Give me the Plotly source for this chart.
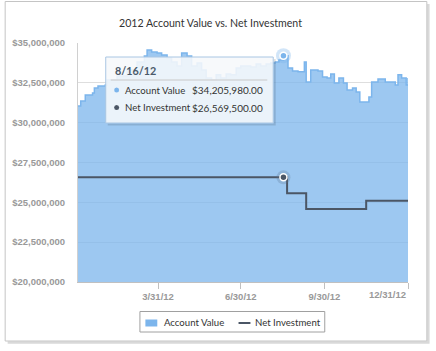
import plotly.graph_objects as go

# ---------------- data ----------------
acct_dates = ["2012-01-03", "2012-01-06", "2012-01-11", "2012-01-19", "2012-01-21", "2012-01-25",
              "2012-02-02", "2012-02-04", "2012-02-15", "2012-02-26", "2012-03-08", "2012-03-16",
              "2012-03-19", "2012-03-24", "2012-03-30", "2012-04-04", "2012-04-10", "2012-04-15",
              "2012-04-21", "2012-04-26", "2012-05-02", "2012-05-07", "2012-05-13", "2012-05-18",
              "2012-05-23", "2012-05-29", "2012-06-03", "2012-06-08", "2012-06-14", "2012-06-19",
              "2012-06-25", "2012-06-30", "2012-07-06", "2012-07-11", "2012-07-17", "2012-07-22",
              "2012-07-28", "2012-08-02", "2012-08-07", "2012-08-11", "2012-08-16", "2012-08-21",
              "2012-08-26", "2012-09-01", "2012-09-07", "2012-09-08", "2012-09-10", "2012-09-15",
              "2012-09-23", "2012-09-28", "2012-10-03", "2012-10-07", "2012-10-11", "2012-10-16",
              "2012-10-21", "2012-10-25", "2012-10-31", "2012-11-04", "2012-11-08", "2012-11-15",
              "2012-11-18", "2012-11-21", "2012-11-28", "2012-12-06", "2012-12-13", "2012-12-17",
              "2012-12-20", "2012-12-24", "2012-12-29", "2012-12-31"]
acct_values = [31050000, 31360000, 31740000, 31860000, 32180000, 32300000,
               32370000, 32680000, 32930000, 33300000, 33800000, 34190000,
               34560000, 34440000, 34380000, 34250000, 34060000, 33810000,
               33560000, 34380000, 34190000, 33560000, 33750000, 33310000,
               32810000, 32680000, 33000000, 32810000, 33060000, 33000000,
               33430000, 33560000, 33560000, 33500000, 33680000, 33560000,
               33680000, 33750000, 33810000, 33940000, 34205980, 33430000,
               33250000, 33190000, 33190000, 33810000, 32560000, 33310000,
               33250000, 32870000, 32810000, 33060000, 32490000, 32810000,
               32490000, 32050000, 32180000, 31930000, 31300000, 31300000,
               31610000, 32560000, 32740000, 32560000, 32560000, 32370000,
               33000000, 32810000, 32370000, 32810000]

net_dates = ["2012-01-03", "2012-08-20", "2012-09-10", "2012-11-15", "2012-12-31"]
net_values = [26569500, 25570000, 24580000, 25100000, 25100000]

hover_date = "2012-08-16"
hover_account = 34205980.00
hover_net = 26569500.00
hover_label = "8/16/12"

x_tick_vals = ["2012-03-31", "2012-06-30", "2012-09-30", "2012-12-31"]
x_tick_text = ["3/31/12", "6/30/12", "9/30/12", ""]
last_tick_label = "12/31/12"

title_text = "2012 Account Value vs. Net Investment"
series_names = ["Account Value", "Net Investment"]

# ---------------- geometry helpers ----------------
W, H = 436, 351
ML, MR, MT, MB = 75, 28, 43, 69
PW, PH = W - ML - MR, H - MT - MB


def px(x):
    return (x - ML) / PW


def py(y):
    return (H - MB - y) / PH


BLUE = "#7cb5ec"
DARK = "#4b5665"
FONT = "Lato"

fig = go.Figure()
fig.add_trace(go.Scatter(
    x=acct_dates, y=acct_values, name=series_names[0], mode="lines",
    line=dict(color=BLUE, width=1.5, shape="hv"),
    fill="tozeroy", fillcolor="rgba(124,181,236,0.75)", hoverinfo="skip"))
fig.add_trace(go.Scatter(
    x=net_dates, y=net_values, name=series_names[1], mode="lines",
    line=dict(color=DARK, width=2, shape="hv"), hoverinfo="skip"))

# hover markers (halo + dot)
fig.add_trace(go.Scatter(x=[hover_date], y=[hover_account], mode="markers", showlegend=False,
                         marker=dict(size=15, color="rgba(124,181,236,0.35)", line=dict(width=0)),
                         hoverinfo="skip"))
fig.add_trace(go.Scatter(x=[hover_date], y=[hover_account], mode="markers", showlegend=False,
                         marker=dict(size=7, color=BLUE, line=dict(width=1.5, color="white")),
                         hoverinfo="skip"))
fig.add_trace(go.Scatter(x=[hover_date], y=[hover_net], mode="markers", showlegend=False,
                         marker=dict(size=14, color="rgba(90,110,140,0.25)", line=dict(width=0)),
                         hoverinfo="skip"))
fig.add_trace(go.Scatter(x=[hover_date], y=[hover_net], mode="markers", showlegend=False,
                         marker=dict(size=7, color=DARK, line=dict(width=1.5, color="white")),
                         hoverinfo="skip"))

shapes = []
# outer frame + shadow
shapes.append(dict(type="path", xref="paper", yref="paper",
                   path=f"M {px(4)} {py(342.5)} L {px(428.5)} {py(342.5)} L {px(428.5)} {py(4)}",
                   line=dict(color="#d9d9d9", width=2.5)))
shapes.append(dict(type="rect", xref="paper", yref="paper",
                   x0=px(1.5), x1=px(427), y0=py(341), y1=py(1.5),
                   line=dict(color="#c4c4c4", width=1), fillcolor="rgba(0,0,0,0)"))
# tooltip shadow + box
shapes.append(dict(type="path", xref="paper", yref="paper",
                   path=f"M {px(105)} {py(124.5)} L {px(273.5)} {py(124.5)} L {px(273.5)} {py(59)}",
                   line=dict(color="rgba(0,0,0,0.12)", width=2)))
shapes.append(dict(type="rect", xref="paper", yref="paper",
                   x0=px(103), x1=px(272), y0=py(123), y1=py(57),
                   line=dict(color="#a9c6e3", width=1), fillcolor="rgba(246,248,251,0.88)"))
shapes.append(dict(type="line", xref="paper", yref="paper",
                   x0=px(108), x1=px(266), y0=py(80), y1=py(80),
                   line=dict(color="#c8c8c8", width=1)))
# tooltip dots
for cy, col in [(90, BLUE), (107.5, DARK)]:
    shapes.append(dict(type="circle", xref="paper", yref="paper",
                       x0=px(111.5), x1=px(116.5), y0=py(cy + 2.5), y1=py(cy - 2.5),
                       line=dict(width=0), fillcolor=col))
# legend box
shapes.append(dict(type="rect", xref="paper", yref="paper",
                   x0=px(137.5), x1=px(324), y0=py(332), y1=py(311.5),
                   line=dict(color="#a0a0a0", width=1), fillcolor="rgba(0,0,0,0)"))
shapes.append(dict(type="rect", xref="paper", yref="paper",
                   x0=px(143), x1=px(155), y0=py(326.5), y1=py(319.5),
                   line=dict(width=0), fillcolor=BLUE))
shapes.append(dict(type="line", xref="paper", yref="paper",
                   x0=px(237), x1=px(249), y0=py(323), y1=py(323),
                   line=dict(color=DARK, width=2)))

lbl_font = dict(family=FONT, size=9.6, color="#333333")
val_font = dict(family=FONT, size=10, color="#333333")
annotations = [
    dict(text=f"<b>{hover_label}</b>", x=px(110.5), y=py(70), xref="paper", yref="paper",
         xanchor="left", yanchor="middle", showarrow=False,
         font=dict(family=FONT, size=10.8, color="#4a5a6b")),
    dict(text=series_names[0], x=px(120.5), y=py(90), xref="paper", yref="paper",
         xanchor="left", yanchor="middle", showarrow=False, font=lbl_font),
    dict(text=f"${hover_account:,.2f}", x=px(264), y=py(90), xref="paper", yref="paper",
         xanchor="right", yanchor="middle", showarrow=False, font=val_font),
    dict(text=series_names[1], x=px(120.5), y=py(107.5), xref="paper", yref="paper",
         xanchor="left", yanchor="middle", showarrow=False, font=lbl_font),
    dict(text=f"${hover_net:,.2f}", x=px(264), y=py(107.5), xref="paper", yref="paper",
         xanchor="right", yanchor="middle", showarrow=False, font=val_font),
    # legend labels
    dict(text=series_names[0], x=px(159.5), y=py(322.5), xref="paper", yref="paper",
         xanchor="left", yanchor="middle", showarrow=False, font=lbl_font),
    dict(text=series_names[1], x=px(252), y=py(322.5), xref="paper", yref="paper",
         xanchor="left", yanchor="middle", showarrow=False, font=lbl_font),
    # last x tick label (shifted inside like the original)
    dict(text=f"<b>{last_tick_label}</b>", x=x_tick_vals[-1], y=py(294), xref="x", yref="paper",
         xanchor="right", yanchor="middle", showarrow=False,
         font=dict(family="Liberation Sans", size=9.5, color="#999999")),
]

fig.update_layout(
    width=W, height=H, margin=dict(l=ML, r=MR, t=MT, b=MB),
    paper_bgcolor="white", plot_bgcolor="white",
    showlegend=False,
    title=dict(text=title_text, x=210.5 / W, xanchor="center", y=1 - 23.5 / H, yanchor="middle",
               font=dict(family=FONT, size=10.6, color="#333333")),
    shapes=shapes, annotations=annotations,
    xaxis=dict(type="date", range=["2012-01-03", "2012-12-31"],
               tickvals=x_tick_vals, ticktext=x_tick_text,
               ticks="outside", ticklen=6, tickcolor="#c0c0c0", tickwidth=1,
               showgrid=False, showline=True, linecolor="#c0c0c0", linewidth=1,
               zeroline=False,
               tickfont=dict(family="Liberation Sans", size=9.5, color="#999999", weight="bold")),
    yaxis=dict(range=[20000000, 35000000], dtick=2500000, tick0=20000000,
               tickformat="$,.0f", showgrid=True, gridcolor="#dedede", gridwidth=1,
               showline=True, linecolor="#d0d0d0", linewidth=1, zeroline=False,
               ticks="", ticklabelstandoff=10,
               tickfont=dict(family="Liberation Sans", size=9.5, color="#999999", weight="bold")),
)

fig.write_html("out.html")
